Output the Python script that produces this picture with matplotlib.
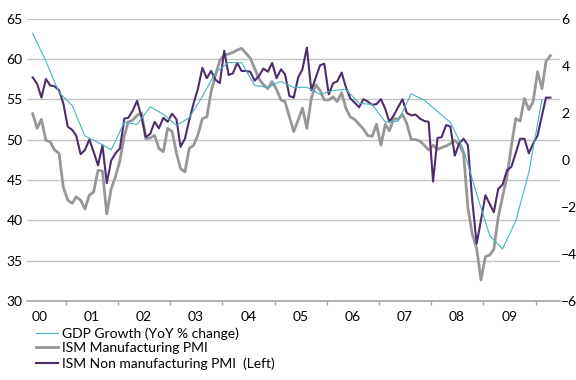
import pandas as pd
import matplotlib
matplotlib.use('Agg')
import matplotlib.pyplot as plt
import matplotlib.dates as mdates

plt.rcParams['font.family'] = ['Lato', 'DejaVu Sans']

# monthly readings from May 2000, GDP every quarter on the same dates
months = pd.date_range('2000-05-01', periods=120, freq='MS') + pd.Timedelta(days=14)
quarters = months[::3]

ism_mfg = [
    53.2, 51.4, 52.5, 49.9, 49.7, 48.7, 48.3, 44.1, 42.5, 42.1,
    42.9, 42.5, 41.4, 43.1, 43.5, 46.2, 46.1, 40.8, 43.9, 45.4,
    47.4, 50.5, 52.2, 52.4, 53.0, 53.3, 50.1, 50.2, 50.5, 48.9,
    48.5, 51.4, 51.0, 48.3, 46.4, 46.0, 48.9, 49.3, 50.6, 52.6,
    52.8, 55.9, 58.0, 59.8, 60.5, 60.6, 60.8, 61.1, 61.3, 60.7,
    60.1, 58.8, 57.5, 56.8, 56.3, 57.2, 56.2, 54.9, 54.7, 52.8,
    51.0, 52.4, 53.9, 51.4, 55.1, 56.8, 56.1, 54.9, 54.9, 55.3,
    54.7, 55.8, 53.9, 52.8, 52.5, 51.9, 51.3, 50.5, 50.4, 51.9,
    49.3, 51.9, 51.1, 52.6, 52.5, 53.1, 52.0, 50.0, 50.0, 49.8,
    49.3, 48.7, 49.3, 48.8, 49.0, 49.2, 49.5, 49.9, 49.4, 48.3,
    41.5, 38.3, 36.5, 32.6, 35.5, 35.7, 36.4, 40.4, 42.9, 45.4,
    49.1, 52.6, 52.3, 55.1, 53.7, 54.7, 58.4, 56.3, 59.7, 60.4,
]

ism_nonmfg = [
    57.7, 56.9, 55.2, 57.5, 56.7, 56.6, 56.1, 54.5, 51.6, 51.2,
    50.5, 48.2, 48.7, 50.0, 48.5, 46.8, 49.3, 44.6, 47.4, 48.3,
    48.9, 52.6, 52.7, 53.6, 54.8, 52.8, 50.3, 50.7, 52.2, 51.4,
    52.7, 52.2, 53.2, 52.5, 49.1, 50.1, 52.4, 54.5, 56.3, 58.9,
    57.6, 58.5, 57.4, 57.0, 61.0, 58.0, 58.2, 59.5, 58.5, 58.5,
    58.4, 57.3, 57.9, 58.8, 58.4, 59.5, 57.6, 58.7, 58.1, 55.4,
    55.2, 57.7, 58.7, 61.4, 56.1, 57.6, 59.2, 59.4, 55.6, 57.0,
    57.2, 58.3, 56.5, 55.1, 54.6, 54.0, 55.0, 54.7, 54.3, 54.4,
    55.0, 53.8, 52.2, 53.0, 54.0, 55.0, 53.3, 53.0, 53.1, 52.6,
    52.3, 52.2, 44.8, 50.2, 50.3, 51.8, 51.6, 48.0, 49.5, 50.1,
    49.3, 42.5, 37.1, 40.0, 43.1, 42.0, 41.0, 43.9, 44.4, 46.2,
    46.6, 48.3, 50.1, 50.1, 48.3, 49.5, 50.5, 53.0, 55.2, 55.2,
]

gdp_growth = [
    5.36, 4.2, 2.86, 2.31, 1.01, 0.74, 0.42, 1.6, 1.5, 2.25,
    1.93, 1.46, 1.79, 2.69, 3.7, 4.13, 4.12, 3.16, 3.07, 3.33,
    3.07, 3.08, 2.78, 2.94, 2.99, 2.4, 2.35, 1.6, 1.64, 2.8,
    2.53, 2.05, 1.59, 0.44, -1.46, -3.23, -3.79, -2.61, -0.54, 2.56,
]

labels = ['GDP Growth (YoY % change)', 'ISM Manufacturing PMI',
          'ISM Non manufacturing PMI  (Left)']

fig = plt.figure(figsize=(5.76, 3.8), dpi=100)
ax = fig.add_axes([27 / 576, 1 - 301 / 380, 533 / 576, 282.5 / 380])
ax2 = ax.twinx()

l_mfg, = ax.plot(months, ism_mfg, color='#979797', lw=2.0)
l_non, = ax.plot(months, ism_nonmfg, color='#4f2d6d', lw=1.5)
l_gdp, = ax2.plot(quarters, gdp_growth, color='#47b2c4', lw=0.8)

ax.set_ylim(30, 65)
ax.set_yticks(range(30, 66, 5))
ax2.set_ylim(-6, 6)
ax2.set_yticks(range(-6, 7, 2))
ax.set_xlim(pd.Timestamp('2000-04-05'), pd.Timestamp('2010-06-21'))

ax.yaxis.grid(True, color='#c3c3c3', lw=1)
ax.set_axisbelow(True)
for s in ['top', 'left', 'right']:
    ax.spines[s].set_visible(False)
for s in ax2.spines.values():
    s.set_visible(False)
ax.spines['bottom'].set_color('#a6a6a6')
ax.spines['bottom'].set_linewidth(1.2)

ax.xaxis.set_major_locator(mdates.YearLocator())
ax.xaxis.set_major_formatter(plt.NullFormatter())
ax.xaxis.set_minor_locator(mdates.MonthLocator(bymonth=7))
ax.xaxis.set_minor_formatter(mdates.DateFormatter('%y'))
ax.tick_params(axis='x', which='major', length=3, color='#a6a6a6', width=1)
ax.tick_params(axis='x', which='minor', length=0, pad=7, labelsize=10)
ax.tick_params(axis='y', length=0, pad=3, labelsize=10)
ax2.tick_params(axis='y', length=0, pad=1, labelsize=10)

fig.legend([l_gdp, l_mfg, l_non], labels, loc='upper left',
           bbox_to_anchor=(36 / 576, 1 - 327 / 380), frameon=False,
           fontsize=10, handlelength=1.6, handletextpad=0.3,
           labelspacing=0.2, borderpad=0, borderaxespad=0)

fig.savefig('out.png', dpi=100)
